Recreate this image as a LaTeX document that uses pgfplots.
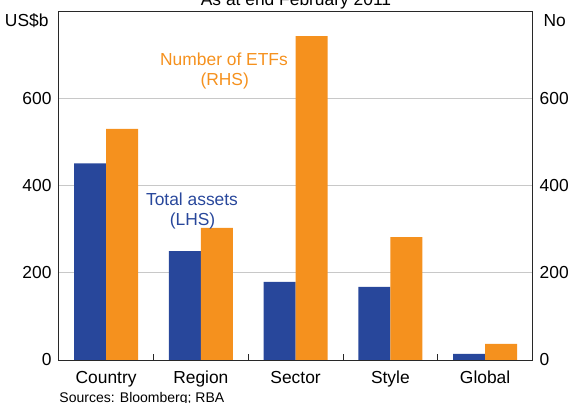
\documentclass[border=0pt]{standalone}
\usepackage{fontspec}
\setmainfont{Liberation Sans}
\usepackage{pgfplots}
\pgfplotsset{compat=1.18}

\definecolor{rbablue}{RGB}{40,71,155}
\definecolor{rbaorange}{RGB}{245,145,30}
\definecolor{gridgrey}{RGB}{200,200,200}
\definecolor{framegrey}{RGB}{40,40,40}

\newcommand{\lab}{\fontsize{17.4bp}{20bp}\selectfont}
\newcommand{\src}{\fontsize{14bp}{16bp}\selectfont}

\begin{document}
\begin{tikzpicture}
\pgfplotsset{
    base/.style={
        scale only axis,
        width=473.8bp, height=348.7bp,
        xmin=-0.5, xmax=4.5,
        ymin=0, ymax=800,
        ytick={0,200,400,600},
        tick label style={font=\lab},
        /pgf/number format/assume math mode=true,
        axis line style={framegrey, line width=0.9bp},
        major tick length=0pt,
    }
}

% left scale: total assets (US$b), frame, grid and categories
\begin{axis}[base, name=ax,
    ybar=0pt, bar width=32bp,
    xtick={0,...,4},
    xticklabels={Country,Region,Sector,Style,Global},
    minor xtick={0.5,1.5,2.5,3.5},
    minor tick length=5.5bp,
    tick align=inside,
    xtick pos=bottom,
    ytick pos=left,
    minor tick style={framegrey, line width=0.9bp},
    ymajorgrids,
    grid style={gridgrey, line width=0.8bp},
    xticklabel style={anchor=base, inner sep=0pt, yshift=-23.2bp},
    yticklabel style={anchor=east, inner sep=0pt, xshift=-7bp},
]
    \addplot[fill=rbablue, draw=none] coordinates {
        (0,451) (1,250) (2,179) (3,167.5) (4,14)
    };
    \addplot[fill=rbaorange, draw=none] coordinates {
        (0,530) (1,303) (2,743) (3,282) (4,37)
    };
\end{axis}

% right scale: number of ETFs
\begin{axis}[base,
    xtick=\empty,
    ytick pos=right,
    yticklabel style={anchor=west, inner sep=0pt, xshift=7bp},
]
\end{axis}

\node[anchor=base east, font=\lab] at ([shift={(-6.7bp,333bp)}]ax.south west) {US\$b};
\node[anchor=base west, font=\lab] at ([shift={(481.3bp,333bp)}]ax.south west) {No};
\node[anchor=base, font=\lab] at ([shift={(237.3bp,354.5bp)}]ax.south west) {As at end February 2011};

\node[anchor=base, font=\lab, text=rbaorange] at ([shift={(165.3bp,294.8bp)}]ax.south west) {Number of ETFs};
\node[anchor=base, font=\lab, text=rbaorange] at ([shift={(166bp,274.2bp)}]ax.south west) {(RHS)};
\node[anchor=base, font=\lab, text=rbablue] at ([shift={(133.3bp,154.8bp)}]ax.south west) {Total assets};
\node[anchor=base, font=\lab, text=rbablue] at ([shift={(133.8bp,134.5bp)}]ax.south west) {(LHS)};

\node[anchor=base west, font=\src, inner sep=0pt] at ([shift={(0.6bp,-42.7bp)}]ax.south west) {Sources: Bloomberg; RBA};

\pgfresetboundingbox
\useasboundingbox ([shift={(-58.7bp,-43bp)}]ax.south west) rectangle ([shift={(511.3bp,360bp)}]ax.south west);
\end{tikzpicture}
\end{document}
